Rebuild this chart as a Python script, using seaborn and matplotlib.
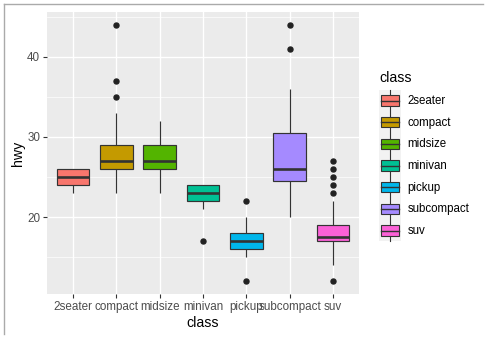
import numpy as np
import pandas as pd
import matplotlib
matplotlib.use("Agg")
import matplotlib.pyplot as plt
import seaborn as sns
from matplotlib.legend_handler import HandlerBase
from matplotlib.patches import Rectangle
from matplotlib.lines import Line2D

# ---- data (hwy values per vehicle class) ----
classes = ["2seater", "compact", "midsize", "minivan", "pickup", "subcompact", "suv"]

hwy_2seater = [23, 24, 25, 26, 26]
hwy_compact = ([23] + [24] * 2 + [25] * 3 + [26] * 8 + [27] * 10 + [28] * 5 + [29] * 8
               + [30] * 2 + [31] + [32] * 2 + [33] * 2 + [35, 37, 44])
hwy_midsize = ([23] * 2 + [24] * 2 + [25] * 2 + [26] * 8 + [27] * 9 + [28] * 5 + [29] * 8
               + [30] * 2 + [31] * 2 + [32])
hwy_minivan = [17, 21, 22, 22, 22, 23, 23, 24, 24, 24, 24]
hwy_pickup = [12] + [15] * 2 + [16] * 7 + [17] * 12 + [18] * 5 + [19] * 3 + [20] * 2 + [22]
hwy_subcompact = ([20, 23] + [24] * 7 + [25] * 3 + [26] * 7 + [27] + [28] * 2 + [29] * 3
                  + [30, 31] + [32] * 2 + [33] * 2 + [35, 36, 41, 44])
hwy_suv = ([12] + [14] * 2 + [15] * 3 + [16] * 5 + [17] * 20 + [18] * 12 + [19] * 6
           + [20] * 4 + [21] * 2 + [22] * 2 + [23, 24, 25, 26, 27])

colors = ["#F8766D", "#C49A00", "#53B400", "#00C094", "#00B6EB", "#A58AFF", "#FB61D7"]

series = [hwy_2seater, hwy_compact, hwy_midsize, hwy_minivan, hwy_pickup, hwy_subcompact, hwy_suv]
df = pd.concat([pd.DataFrame({"class": c, "hwy": v}) for c, v in zip(classes, series)],
               ignore_index=True)

# ---- figure ----
W, H = 486, 341
fig = plt.figure(figsize=(W / 100, H / 100), dpi=100)
plt.rcParams["font.family"] = ["Liberation Sans", "DejaVu Sans"]

L, R, T, B = 47, 359, 12, 294
ax = fig.add_axes([L / W, 1 - B / H, (R - L) / W, (B - T) / H])
ax.set_facecolor("#EBEBEB")

sns.boxplot(data=df, x="class", y="hwy", hue="class", order=classes, hue_order=classes,
            palette=colors, width=0.75, linecolor="#333333", linewidth=0.85,
            showcaps=False, saturation=1, legend=False, ax=ax, zorder=3,
            flierprops=dict(marker="o", markersize=3.6, markerfacecolor="#222222",
                            markeredgecolor="#222222"),
            medianprops=dict(linewidth=1.9, color="#333333"),
            boxprops=dict(zorder=3), whiskerprops=dict(zorder=3))

ax.set_xlim(-0.6, 6.6)
ax.set_ylim(10.4, 45.6)
ax.set_yticks([20, 30, 40])
ax.set_yticks([15, 25, 35, 45], minor=True)
ax.grid(True, which="major", color="white", linewidth=1.0, zorder=0)
ax.grid(True, which="minor", axis="y", color="white", linewidth=0.5, zorder=0)
ax.set_axisbelow(True)
for s in ax.spines.values():
    s.set_visible(False)
ax.tick_params(axis="both", which="major", length=3, width=0.8, color="#333333",
               labelsize=8.4, labelcolor="#4D4D4D", pad=2)
ax.tick_params(axis="both", which="minor", length=0)
ax.set_xlabel("class", fontsize=10.2, color="black", labelpad=2)
ax.set_ylabel("hwy", fontsize=10.2, color="black", labelpad=1.5)


# ---- legend with box glyphs ----
class BoxHandler(HandlerBase):
    def create_artists(self, legend, orig, xdescent, ydescent, width, height, fontsize, trans):
        bg = Rectangle((-xdescent, -ydescent), width, height, facecolor="#F2F2F2",
                       edgecolor="none", transform=trans)
        cx = -xdescent + width / 2
        vline = Line2D([cx, cx], [-ydescent, -ydescent + height], color="#333333",
                       linewidth=0.8, transform=trans)
        bw, bh = width * 0.82, height * 0.48
        box = Rectangle((cx - bw / 2, -ydescent + (height - bh) / 2), bw, bh,
                        facecolor=orig.get_facecolor(), edgecolor="#333333",
                        linewidth=0.8, transform=trans)
        med = Line2D([cx - bw / 2, cx + bw / 2], [-ydescent + height / 2] * 2,
                     color="#333333", linewidth=1.0, transform=trans)
        return [bg, vline, box, med]


handles = [Rectangle((0, 0), 1, 1, facecolor=c) for c in colors]
leg = fig.legend(handles, classes, handler_map={Rectangle: BoxHandler()},
                 loc="upper left", bbox_to_anchor=(379 / W, 1 - 71 / H),
                 frameon=False, fontsize=8.3, title="class", title_fontsize=10.2,
                 handlelength=1.9, handleheight=2.515, labelspacing=0,
                 handletextpad=0.55, borderpad=0, borderaxespad=0)
leg._legend_box.align = "left"
leg._legend_box.sep = 3.4

# image frame lines (top and left)
fig.add_artist(Line2D([4 / W, 483 / W], [1 - 4 / H, 1 - 4 / H], color="#AAAAAA",
                      linewidth=1.0, transform=fig.transFigure))
fig.add_artist(Line2D([4 / W, 4 / W], [1 - 4 / H, 1 - 334 / H], color="#AAAAAA",
                      linewidth=1.0, transform=fig.transFigure))

fig.savefig("out.png", dpi=100, facecolor="white")
